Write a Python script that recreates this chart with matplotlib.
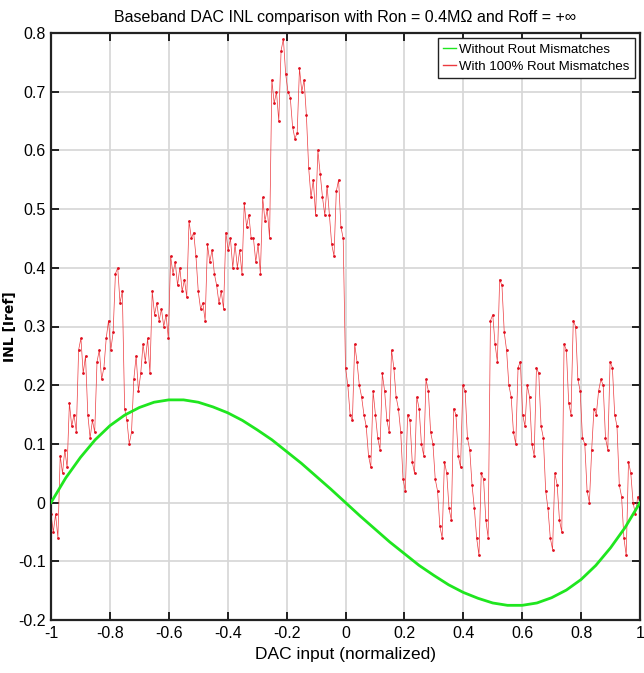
import numpy as np
import matplotlib
matplotlib.use("Agg")
import matplotlib.pyplot as plt

# ---- data ----
# ideal INL (no mismatch), sampled every 0.05
green_x = [-1.0, -0.95, -0.9, -0.85, -0.8, -0.75, -0.7, -0.65, -0.6, -0.55, -0.5,
           -0.45, -0.4, -0.35, -0.3, -0.25, -0.2, -0.15, -0.1, -0.05, 0.0,
           0.05, 0.1, 0.15, 0.2, 0.25, 0.3, 0.35, 0.4, 0.45, 0.5,
           0.55, 0.6, 0.65, 0.7, 0.75, 0.8, 0.85, 0.9, 0.95, 1.0]
green_y = [0.000, 0.042, 0.077, 0.107, 0.131, 0.149, 0.162, 0.171, 0.175, 0.175, 0.171,
           0.163, 0.153, 0.140, 0.124, 0.107, 0.087, 0.067, 0.045, 0.023, 0.000,
           -0.023, -0.045, -0.067, -0.087, -0.107, -0.124, -0.140, -0.153, -0.163, -0.171,
           -0.175, -0.175, -0.171, -0.162, -0.149, -0.131, -0.107, -0.077, -0.042, 0.000]

# INL with mismatches: 64 segments, 4 samples each (step 1/128), plus end point
red_y = [
    -0.02, -0.05, -0.02, -0.06,
    0.08, 0.05, 0.09, 0.06,
    0.17, 0.13, 0.15, 0.12,
    0.26, 0.28, 0.22, 0.25,
    0.15, 0.11, 0.14, 0.12,
    0.24, 0.26, 0.21, 0.23,
    0.28, 0.31, 0.26, 0.29,
    0.39, 0.40, 0.34, 0.36,
    0.16, 0.14, 0.10, 0.12,
    0.21, 0.25, 0.19, 0.22,
    0.27, 0.24, 0.28, 0.22,
    0.36, 0.32, 0.34, 0.31,
    0.33, 0.30, 0.32, 0.28,
    0.42, 0.39, 0.41, 0.37,
    0.40, 0.36, 0.38, 0.35,
    0.48, 0.45, 0.46, 0.42,
    0.36, 0.33, 0.34, 0.31,
    0.44, 0.41, 0.43, 0.39,
    0.37, 0.34, 0.36, 0.33,
    0.46, 0.43, 0.45, 0.40,
    0.44, 0.40, 0.43, 0.39,
    0.51, 0.47, 0.49, 0.45,
    0.45, 0.41, 0.44, 0.39,
    0.52, 0.48, 0.50, 0.45,
    0.72, 0.68, 0.70, 0.65,
    0.77, 0.79, 0.73, 0.70,
    0.69, 0.64, 0.62, 0.63,
    0.74, 0.70, 0.72, 0.66,
    0.57, 0.52, 0.55, 0.49,
    0.60, 0.56, 0.52, 0.49,
    0.54, 0.49, 0.44, 0.42,
    0.53, 0.55, 0.47, 0.45,
    0.23, 0.20, 0.15, 0.14,
    0.27, 0.24, 0.20, 0.18,
    0.15, 0.13, 0.08, 0.06,
    0.19, 0.15, 0.11, 0.09,
    0.22, 0.19, 0.14, 0.12,
    0.26, 0.23, 0.18, 0.16,
    0.12, 0.04, 0.02, 0.15,
    0.14, 0.07, 0.05, 0.18,
    0.16, 0.10, 0.08, 0.21,
    0.19, 0.12, 0.10, 0.04,
    0.02, -0.04, -0.06, 0.07,
    0.05, -0.01, -0.03, 0.16,
    0.15, 0.08, 0.06, 0.20,
    0.19, 0.11, 0.09, 0.03,
    -0.01, -0.06, -0.09, 0.05,
    0.04, -0.03, -0.06, 0.31,
    0.32, 0.27, 0.24, 0.38,
    0.37, 0.29, 0.26, 0.20,
    0.18, 0.12, 0.10, 0.23,
    0.24, 0.15, 0.13, 0.20,
    0.18, 0.10, 0.08, 0.23,
    0.22, 0.13, 0.11, 0.02,
    -0.01, -0.06, -0.08, 0.05,
    0.03, -0.03, -0.05, 0.27,
    0.26, 0.17, 0.15, 0.31,
    0.30, 0.21, 0.19, 0.11,
    0.10, 0.02, 0.00, 0.09,
    0.16, 0.15, 0.19, 0.21,
    0.20, 0.11, 0.09, 0.24,
    0.23, 0.15, 0.13, 0.03,
    0.01, -0.06, -0.09, 0.07,
    0.05, 0.00, -0.02, 0.01,
    0.00,
]
red_x = np.linspace(-1, 1, len(red_y))

x_ticks = [-1, -0.8, -0.6, -0.4, -0.2, 0, 0.2, 0.4, 0.6, 0.8, 1]
x_labels = ["-1", "-0.8", "-0.6", "-0.4", "-0.2", "0", "0.2", "0.4", "0.6", "0.8", "1"]
y_ticks = [-0.2, -0.1, 0, 0.1, 0.2, 0.3, 0.4, 0.5, 0.6, 0.7, 0.8]
y_labels = ["-0.2", "-0.1", "0", "0.1", "0.2", "0.3", "0.4", "0.5", "0.6", "0.7", "0.8"]

narrow = ["Liberation Sans", "DejaVu Sans"]

fig = plt.figure(figsize=(6.44, 6.73), dpi=100)
ax = fig.add_axes([51 / 644, 1 - 620 / 673, (640 - 51) / 644, (620 - 33) / 673])

ax.plot(green_x, green_y, color="#1fe61f", lw=2.0, label="Without Rout Mismatches", zorder=3)
ax.plot(red_x, red_y, color="#ec3a3f", lw=0.5, marker=".", ms=2.0,
        mfc="#e01020", mec="#e01020", label="With 100% Rout Mismatches", zorder=2)

ax.set_xlim(-1, 1)
ax.set_ylim(-0.2, 0.8)
ax.set_xticks(x_ticks)
ax.set_xticklabels(x_labels)
ax.set_yticks(y_ticks)
ax.set_yticklabels(y_labels)
ax.grid(True, color="#d6d6d6", lw=1.2)
ax.set_axisbelow(True)
ax.tick_params(direction="in", length=6, width=1.2, top=True, right=True,
               labelsize=11.5, pad=4)
for lab in ax.get_xticklabels() + ax.get_yticklabels():
    lab.set_family(narrow)
for s in ax.spines.values():
    s.set_linewidth(1.6)
    s.set_color("#222222")

ax.set_title("Baseband DAC INL comparison with Ron = 0.4M\u03a9 and Roff = +\u221e",
             family=narrow, fontsize=11.5, pad=8)
ax.set_xlabel("DAC input (normalized)", family=narrow, fontsize=12.5, labelpad=5)
ax.set_ylabel("INL [Iref]", family="DejaVu Sans", fontweight="bold", fontsize=10)
ax.yaxis.set_label_coords(-0.058, 0.5)

leg = ax.legend(loc="upper right", prop={"family": narrow, "size": 9.5},
                handlelength=1.0, handletextpad=0.2, borderpad=0.4,
                labelspacing=0.35, fancybox=False, framealpha=1,
                edgecolor="#222222", borderaxespad=0.4)
leg.get_frame().set_linewidth(1.0)
for h in leg.legend_handles:
    h.set_linewidth(1.0)
    h.set_marker("")

fig.savefig("out.png", dpi=100)
